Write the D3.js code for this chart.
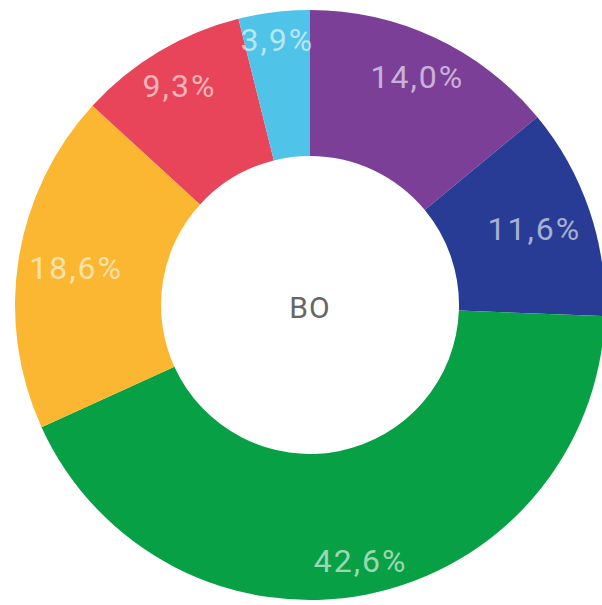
<!DOCTYPE html>
<html>
<head>
<meta charset="utf-8" />
<title>BO donut</title>
<style>
  body { margin: 0; background: #fff; }
  svg { display: block; }
</style>
<script src="https://cdn.jsdelivr.net/npm/d3@7"></script>
</head>
<body>
<script>
// slices, clockwise from 12 o'clock
var categories = ["A", "B", "C", "D", "E", "F"];
var values = [14.0, 11.6, 42.6, 18.6, 9.3, 3.9];
var labels = ["14,0%", "11,6%", "42,6%", "18,6%", "9,3%", "3,9%"];
var colors = ["#7b3f98", "#283c96", "#08a045", "#fbb731", "#e8445a", "#4fc3e8"];
var centerText = "BO";

var width = 602, height = 605;
var cx = 310, cy = 305;
var outerR = 295, innerR = 149;
var fitR = 285;      // label box's far corner sits on this radius
var fontSize = 32;

var svg = d3.select("body").append("svg")
    .attr("width", width)
    .attr("height", height);

var g = svg.append("g").attr("transform", "translate(" + cx + "," + cy + ")");

var pie = d3.pie().sort(null).value(function(d){ return d; });
var arcs = pie(values);

var arc = d3.arc().innerRadius(innerR).outerRadius(outerR);

g.selectAll("path")
    .data(arcs)
    .enter()
    .append("path")
    .attr("d", arc)
    .attr("fill", function(d, i){ return colors[i]; });

var texts = g.selectAll("text.lbl")
    .data(arcs)
    .enter()
    .append("text")
    .attr("class", "lbl")
    .attr("text-anchor", "middle")
    .attr("dominant-baseline", "central")
    .style("font-family", "Roboto, sans-serif")
    .style("font-size", fontSize + "px")
    .style("letter-spacing", "2px")
    .attr("fill", "#ffffff")
    .attr("fill-opacity", 0.6)
    .text(function(d, i){ return labels[i]; });

// push each label out along the slice's middle angle until its box reaches fitR
texts.attr("transform", function(d){
    var a = (d.startAngle + d.endAngle) / 2;
    var ux = Math.sin(a), uy = -Math.cos(a);
    var hw = this.getComputedTextLength() / 2;
    var hh = fontSize * 0.36;
    var c0 = (ux >= 0 ? 1 : -1) * hw, c1 = (uy >= 0 ? 1 : -1) * hh;
    var b = ux * c0 + uy * c1;
    var t = -b + Math.sqrt(b * b - (c0 * c0 + c1 * c1) + fitR * fitR);
    return "translate(" + (t * ux) + "," + (t * uy) + ")";
});

g.append("text")
    .attr("text-anchor", "middle")
    .attr("dominant-baseline", "central")
    .attr("y", 2)
    .style("font-family", "Roboto, sans-serif")
    .style("font-size", "30px")
    .style("letter-spacing", "1px")
    .attr("fill", "#666")
    .text(centerText);
</script>
</body>
</html>
